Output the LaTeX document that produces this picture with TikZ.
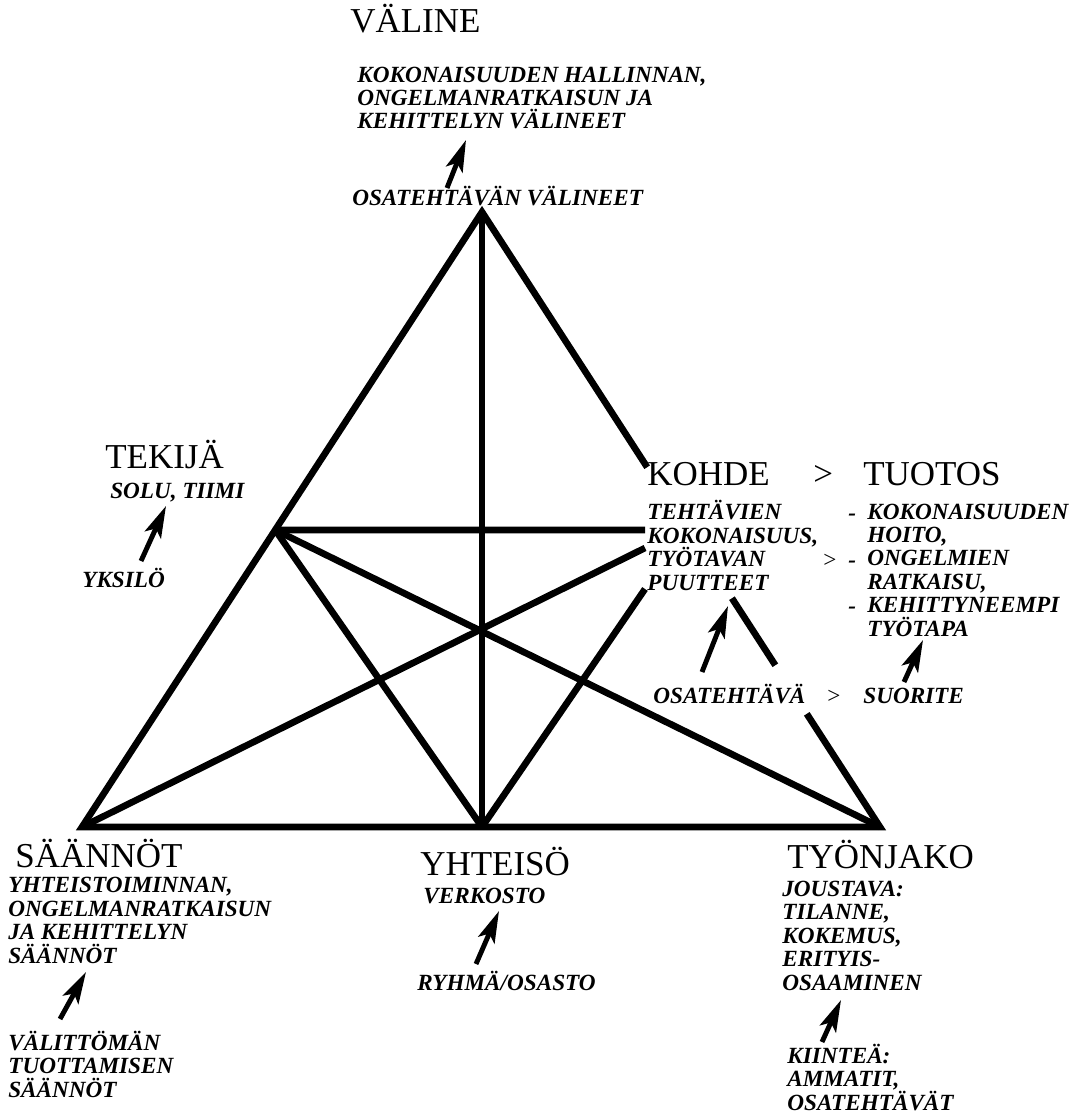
\documentclass[tikz,border=0pt]{standalone}
\usepackage{fontspec}
\setmainfont{Liberation Serif}
\usetikzlibrary{arrows.meta,calc}

\tikzset{
  big/.style={font=\fontsize{19.9}{22}\selectfont, inner sep=0pt, anchor=base west},
  small/.style={font=\fontsize{13.2}{13.3}\selectfont\bfseries\itshape, inner sep=0pt,
    anchor=base west, align=left},
  plain/.style={font=\fontsize{13.2}{13.3}\selectfont, inner sep=0pt, anchor=base west},
  bar/.style={line width=3.8pt},
  up/.style={line width=2.8pt, -{Stealth[length=18pt,width=10pt,inset=4pt]}},
}

\begin{document}
\begin{tikzpicture}[x=0.02cm, y=-0.02cm]
\useasboundingbox (0,0) rectangle (1078,1118);
% corners of the activity triangle (pixel grid, y downwards)
\coordinate (valine) at (482,212);
\coordinate (saannot) at (82,827);
\coordinate (yhteiso) at (482,827);
\coordinate (tyonjako) at (880,827);
\coordinate (tekija) at ($(valine)!0.517!(saannot)$);
\coordinate (kohde-a) at (645,530);
\coordinate (kohde-b) at (645,548);
\coordinate (kohde-c) at (645,589);
% ---- triangle
\draw[bar] ($(valine)!0.816!(tyonjako)$) -- (tyonjako) -- (saannot) -- (valine)
  -- ($(valine)!0.415!(tyonjako)$);
\draw[bar] ($(valine)!0.628!(tyonjako)$) -- ($(valine)!0.737!(tyonjako)$);
\draw[bar] (valine) -- (yhteiso);
\draw[bar] (tekija) -- (kohde-a);
\draw[bar] (tekija) -- (yhteiso);
\draw[bar] (tekija) -- (tyonjako);
\draw[bar] (saannot) -- (kohde-b);
\draw[bar] (yhteiso) -- (kohde-c);
% ---- top: instruments  (multi-line texts sit on their last baseline)
\node[big] (valine-t) at (350,33) {VÄLINE};
\node[small] (valine-hi) at (357,129)
  {KOKONAISUUDEN HALLINNAN,\\ONGELMANRATKAISUN JA\\KEHITTELYN VÄLINEET};
\node[small] (valine-lo) at (352,206) {OSATEHTÄVÄN VÄLINEET};
\coordinate (valine-from) at (447,188);
\coordinate (valine-to) at (466,140);
\draw[up] (valine-from) -- (valine-to);
% ---- left: subject
\node[big] (tekija-t) at (105,468) {TEKIJÄ};
\node[small] (tekija-hi) at (110,498) {SOLU, TIIMI};
\node[small] (tekija-lo) at (82,587) {YKSILÖ};
\coordinate (tekija-from) at (141,561);
\coordinate (tekija-to) at (166,506);
\draw[up] (tekija-from) -- (tekija-to);
% ---- right: object > outcome
\node[big] (kohde-t) at (647,485) {KOHDE};
\node[big] (kohde-gt) at (813,485) {>};
\node[big] (tuotos-t) at (863,485) {TUOTOS};
\node[small] (kohde-hi) at (647,590)
  {TEHTÄVIEN\\KOKONAISUUS,\\TYÖTAVAN\\PUUTTEET};
\node[plain] (kohde-hi-gt) at (823,567) {>};
\foreach \y in {520,567,613}
  \node[small] (dash-\y) at (848,\y) {-};
\node[small] (tuotos-hi) at (867,636)
  {KOKONAISUUDEN\\HOITO,\\ONGELMIEN\\RATKAISU,\\KEHITTYNEEMPI\\TYÖTAPA};
\node[small] (kohde-lo) at (653,703) {OSATEHTÄVÄ};
\node[plain] (kohde-lo-gt) at (827,703) {>};
\node[small] (tuotos-lo) at (863,703) {SUORITE};
\coordinate (kohde-from) at (702,672);
\coordinate (kohde-to) at (728,606);
\draw[up] (kohde-from) -- (kohde-to);
\coordinate (tuotos-from) at (904,682);
\coordinate (tuotos-to) at (923,640);
\draw[up] (tuotos-from) -- (tuotos-to);
% ---- bottom left: rules
\node[big] (saannot-t) at (15,867) {SÄÄNNÖT};
\node[small] (saannot-hi) at (8,963)
  {YHTEISTOIMINNAN,\\ONGELMANRATKAISUN\\JA KEHITTELYN\\SÄÄNNÖT};
\node[small] (saannot-lo) at (8,1097)
  {VÄLITTÖMÄN\\TUOTTAMISEN\\SÄÄNNÖT};
\coordinate (saannot-from) at (60,1019);
\coordinate (saannot-to) at (86,972);
\draw[up] (saannot-from) -- (saannot-to);
% ---- bottom middle: community
\node[big] (yhteiso-t) at (420,875) {YHTEISÖ};
\node[small] (yhteiso-hi) at (423,903) {VERKOSTO};
\node[small] (yhteiso-lo) at (417,990) {RYHMÄ/OSASTO};
\coordinate (yhteiso-from) at (476,964);
\coordinate (yhteiso-to) at (499,911);
\draw[up] (yhteiso-from) -- (yhteiso-to);
% ---- bottom right: division of labour
\node[big] (tyonjako-t) at (787,868) {TYÖNJAKO};
\node[small] (tyonjako-hi) at (782,990)
  {JOUSTAVA:\\TILANNE,\\KOKEMUS,\\ERITYIS-\\OSAAMINEN};
\node[small] (tyonjako-lo) at (787,1110)
  {KIINTEÄ:\\AMMATIT,\\OSATEHTÄVÄT};
\coordinate (tyonjako-from) at (822,1042);
\coordinate (tyonjako-to) at (841,1000);
\draw[up] (tyonjako-from) -- (tyonjako-to);
\end{tikzpicture}
\end{document}
